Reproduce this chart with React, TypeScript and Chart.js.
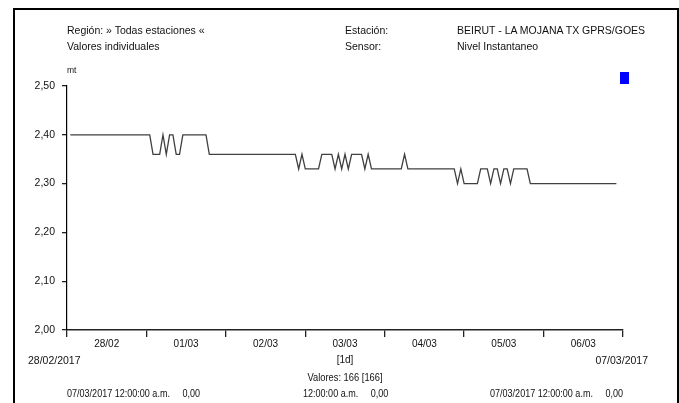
import React, { useEffect, useRef } from "react";
import { Chart, registerables } from "chart.js";

Chart.register(...registerables);

// ---- data ----
const dayLabels = ["28/02", "01/03", "02/03", "03/03", "04/03", "05/03", "06/03"];
const dayTickHours = [0, 24, 48, 72, 96, 120, 144, 168];
const yTickValues = [2.0, 2.1, 2.2, 2.3, 2.4, 2.5];
const firstHour = 1; // first sample, hours after 28/02/2017 00:00
const stepHours = 1; // hourly samples

// Nivel Instantaneo (mt), one row per day
const levels = [
  2.40, 2.40, 2.40, 2.40, 2.40, 2.40, 2.40, 2.40, 2.40, 2.40, 2.40, 2.40, 2.40, 2.40, 2.40, 2.40, 2.40, 2.40, 2.40, 2.40, 2.40, 2.40, 2.40, 2.40,
  2.40, 2.36, 2.36, 2.36, 2.40, 2.36, 2.40, 2.40, 2.36, 2.36, 2.40, 2.40, 2.40, 2.40, 2.40, 2.40, 2.40, 2.40, 2.36, 2.36, 2.36, 2.36, 2.36, 2.36,
  2.36, 2.36, 2.36, 2.36, 2.36, 2.36, 2.36, 2.36, 2.36, 2.36, 2.36, 2.36, 2.36, 2.36, 2.36, 2.36, 2.36, 2.36, 2.36, 2.36, 2.36, 2.33, 2.36, 2.33,
  2.33, 2.33, 2.33, 2.33, 2.36, 2.36, 2.36, 2.36, 2.33, 2.36, 2.33, 2.36, 2.33, 2.36, 2.36, 2.36, 2.36, 2.33, 2.36, 2.33, 2.33, 2.33, 2.33, 2.33,
  2.33, 2.33, 2.33, 2.33, 2.33, 2.36, 2.33, 2.33, 2.33, 2.33, 2.33, 2.33, 2.33, 2.33, 2.33, 2.33, 2.33, 2.33, 2.33, 2.33, 2.33, 2.30, 2.33, 2.30,
  2.30, 2.30, 2.30, 2.30, 2.33, 2.33, 2.33, 2.30, 2.33, 2.33, 2.30, 2.33, 2.33, 2.30, 2.33, 2.33, 2.33, 2.33, 2.33, 2.30, 2.30, 2.30, 2.30, 2.30,
  2.30, 2.30, 2.30, 2.30, 2.30, 2.30, 2.30, 2.30, 2.30, 2.30, 2.30, 2.30, 2.30, 2.30, 2.30, 2.30, 2.30, 2.30, 2.30, 2.30, 2.30, 2.30,
];

const FONT = "'Liberation Sans', Arial, Helvetica, sans-serif";
const TEXT = "#111";

const txt = (extra: React.CSSProperties): React.CSSProperties => ({
  position: "absolute",
  fontFamily: FONT,
  fontSize: "10.5px",
  lineHeight: "12px",
  color: TEXT,
  whiteSpace: "pre",
  ...extra,
});

const narrow = (extra: React.CSSProperties): React.CSSProperties =>
  txt({ transform: "scaleX(0.86)", transformOrigin: "0 50%", ...extra });

export default function App() {
  const canvasRef = useRef<HTMLCanvasElement | null>(null);

  useEffect(() => {
    const canvas = canvasRef.current;
    if (!canvas) return;
    const points = levels.map((v, k) => ({ x: firstHour + k * stepHours, y: v }));
    const chart = new Chart(canvas, {
      type: "line",
      data: {
        datasets: [
          {
            data: points,
            borderColor: "#404040",
            borderWidth: 1.3,
            pointRadius: 0,
            tension: 0,
            fill: false,
          },
        ],
      },
      options: {
        responsive: false,
        animation: false,
        layout: { padding: { left: 22, right: 56, top: 86, bottom: 51 } },
        plugins: { legend: { display: false }, tooltip: { enabled: false } },
        scales: {
          x: {
            type: "linear",
            min: dayTickHours[0],
            max: dayTickHours[dayTickHours.length - 1],
            afterBuildTicks: (s: any) => {
              s.ticks = dayTickHours.map((h) => ({ value: h }));
            },
            afterFit: (s: any) => {
              s.height = 22;
            },
            grid: { drawOnChartArea: false, tickLength: 7, color: "#222", lineWidth: 1.3 },
            border: { color: "#222", width: 1.5 },
            ticks: {
              autoSkip: false,
              maxRotation: 0,
              minRotation: 0,
              labelOffset: 39.7,
              padding: 1,
              color: TEXT,
              font: { family: FONT, size: 10 },
              callback: (_v: any, idx: number) => dayLabels[idx] ?? "",
            },
          },
          y: {
            min: 2.0,
            max: 2.5,
            afterBuildTicks: (s: any) => {
              s.ticks = yTickValues.map((v) => ({ value: v }));
            },
            afterFit: (s: any) => {
              s.width = 45;
            },
            grid: { drawOnChartArea: false, tickLength: 5, color: "#222", lineWidth: 1.3 },
            border: { color: "#000", width: 1.2 },
            ticks: {
              padding: 7,
              color: TEXT,
              font: { family: FONT, size: 10.5 },
              callback: (v: any) => Number(v).toFixed(2).replace(".", ","),
            },
          },
        },
      },
    });
    return () => chart.destroy();
  }, []);

  return (
    <div
      style={{
        position: "absolute",
        left: 0,
        top: 0,
        width: 679,
        height: 403,
        overflow: "hidden",
        background: "#fff",
      }}
    >
      <div
        style={{
          position: "absolute",
          left: 13,
          top: 8,
          width: 666,
          height: 500,
          boxSizing: "border-box",
          borderLeft: "2px solid #000",
          borderTop: "2px solid #000",
          borderRight: "2px solid #000",
        }}
      />
      <canvas ref={canvasRef} width={679} height={403} style={{ position: "absolute", left: 0, top: 0 }} />

      <div style={txt({ left: 67, top: 24 })}>Región: » Todas estaciones «</div>
      <div style={txt({ left: 67, top: 40 })}>Valores individuales</div>
      <div style={txt({ left: 345, top: 24 })}>Estación:</div>
      <div style={txt({ left: 345, top: 40 })}>Sensor:</div>
      <div style={txt({ left: 457, top: 24 })}>BEIRUT - LA MOJANA TX GPRS/GOES</div>
      <div style={txt({ left: 457, top: 40 })}>Nivel Instantaneo</div>
      <div style={txt({ left: 67, top: 65, fontSize: "8.5px", lineHeight: "10px" })}>mt</div>
      <div style={{ position: "absolute", left: 620, top: 72, width: 9, height: 12, background: "#0000ff" }} />

      <div style={txt({ left: 28, top: 354 })}>28/02/2017</div>
      <div style={txt({ left: 345, top: 354, transform: "translateX(-50%)", fontSize: "10px" })}>[1d]</div>
      <div style={txt({ left: 648, top: 354, transform: "translateX(-100%)" })}>07/03/2017</div>
      <div style={txt({ left: 345, top: 371, transform: "translateX(-50%) scaleX(0.89)" })}>Valores: 166 [166]</div>
      <div style={narrow({ left: 67, top: 387 })}>07/03/2017 12:00:00 a.m.     0,00</div>
      <div style={narrow({ left: 303, top: 387 })}>12:00:00 a.m.     0,00</div>
      <div style={narrow({ left: 490, top: 387 })}>07/03/2017 12:00:00 a.m.     0,00</div>
    </div>
  );
}
